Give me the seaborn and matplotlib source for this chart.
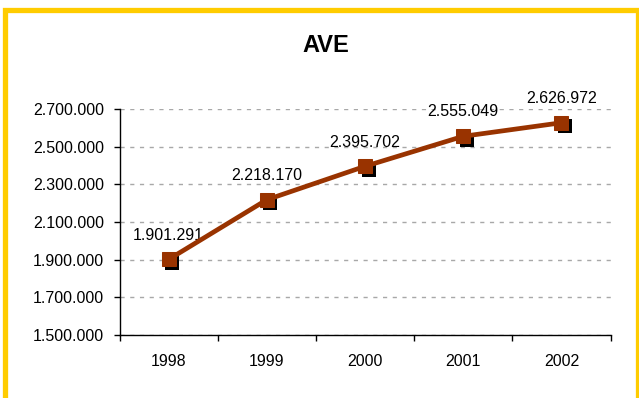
import matplotlib
matplotlib.use("Agg")
import matplotlib.pyplot as plt
import matplotlib.transforms as mtransforms
from matplotlib.patches import Rectangle
from matplotlib.ticker import FuncFormatter, FixedLocator
import seaborn as sns
import pandas as pd

years = ["1998", "1999", "2000", "2001", "2002"]
values = [1901291, 2218170, 2395702, 2555049, 2626972]
labels = ["1.901.291", "2.218.170", "2.395.702", "2.555.049", "2.626.972"]
title = "AVE"

sns.set_theme(style="white")
plt.rcParams["font.family"] = ["Liberation Sans", "DejaVu Sans"]
plt.rcParams["text.color"] = "black"
plt.rcParams["xtick.color"] = "black"
plt.rcParams["ytick.color"] = "black"

W, H = 639, 398
fig = plt.figure(figsize=(W / 100, H / 100), dpi=100)
ax = fig.add_axes([119.5 / W, (H - 335) / H, (610.5 - 119.5) / W, (335 - 109) / H])

df = pd.DataFrame({"year": years, "value": values, "x": range(len(years))})

# shadow markers
shadow = ax.transData + mtransforms.ScaledTranslation(3.5 / 100, -3.5 / 100, fig.dpi_scale_trans)
sns.scatterplot(data=df, x="x", y="value", marker="s", s=100, color="black",
                edgecolor="black", linewidth=0, ax=ax, transform=shadow, zorder=3, legend=False)
sns.lineplot(data=df, x="x", y="value", color="#993300", linewidth=3.4, marker="s",
             markersize=10, markeredgecolor="#993300", ax=ax, zorder=4, legend=False)

for xi, v, lab in zip(df["x"], values, labels):
    ax.annotate(lab, (xi, v), xytext=(0, 17.5), textcoords="offset points",
                ha="center", va="center", fontsize=11.5, color="black")

ax.set_xlim(-0.5, len(years) - 0.5)
ax.set_ylim(1500000, 2700000)
ax.set_yticks(range(1500000, 2700001, 200000))
ax.yaxis.set_major_formatter(FuncFormatter(lambda v, p: f"{int(v):,}".replace(",", ".")))
ax.xaxis.set_major_locator(FixedLocator([i - 0.5 for i in range(len(years) + 1)]))
ax.xaxis.set_major_formatter(FuncFormatter(lambda v, p: ""))
ax.set_xticks(list(range(len(years))), minor=True)
ax.set_xticklabels(years, minor=True)
ax.tick_params(axis="x", which="minor", length=0, pad=14, labelsize=11.5)
ax.tick_params(axis="x", which="major", length=4, width=1, color="black", direction="out", bottom=True)
ax.tick_params(axis="y", length=4, width=1, color="black", direction="out", left=True, labelsize=11.5, pad=7)
ax.set_xlabel("")
ax.set_ylabel("")
ax.yaxis.grid(True, color="#a8a8a8", linestyle=(0, (3, 4)), linewidth=1)
ax.xaxis.grid(False)
for s in ["top", "right"]:
    ax.spines[s].set_visible(False)
for s in ["left", "bottom"]:
    ax.spines[s].set_color("black")
    ax.spines[s].set_linewidth(1)
ax.set_axisbelow(True)

fig.text(325.5 / W, (H - 45) / H, title, ha="center", va="center", fontsize=17, fontweight="bold", color="black")

# yellow frame
fig.patches.append(Rectangle((5 / W, -0.1), (637.5 - 5) / W, (H - 9.7) / H + 0.1,
                             transform=fig.transFigure, fill=False, edgecolor="#FFCC00",
                             linewidth=3.8, zorder=10))

fig.savefig("out.png", dpi=100)
